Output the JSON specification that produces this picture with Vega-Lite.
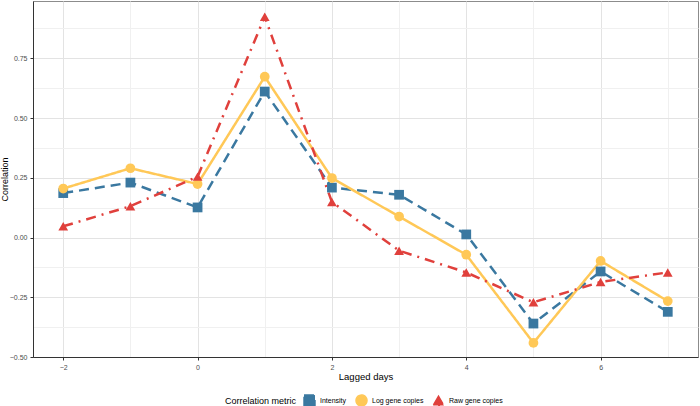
{
  "$schema": "https://vega.github.io/schema/vega-lite/v6.json",
  "width": 665,
  "height": 356,
  "autosize": {"type": "none"},
  "padding": {"left": 33, "top": 1, "right": 2, "bottom": 49},
  "background": "white",
  "config": {
    "font": "Liberation Sans",
    "view": {"stroke": "#8c8c8c", "strokeWidth": 1},
    "axis": {
      "labelFont": "Liberation Sans",
      "titleFont": "Liberation Sans",
      "labelFontSize": 7,
      "labelColor": "#4d4d4d",
      "titleFontSize": 9.5,
      "titleFontWeight": "normal",
      "titleColor": "#000000",
      "domainColor": "#333333",
      "tickColor": "#333333",
      "tickSize": 3
    },
    "legend": {
      "labelFont": "Liberation Sans",
      "titleFont": "Liberation Sans",
      "labelFontSize": 7,
      "titleFontSize": 9,
      "titleFontWeight": "normal",
      "labelColor": "#000000",
      "titleColor": "#000000"
    }
  },
  "data": {
    "values": [
      {"day": -2, "value": 0.186, "metric": "Intensity"},
      {"day": -1, "value": 0.230, "metric": "Intensity"},
      {"day": 0, "value": 0.126, "metric": "Intensity"},
      {"day": 1, "value": 0.611, "metric": "Intensity"},
      {"day": 2, "value": 0.209, "metric": "Intensity"},
      {"day": 3, "value": 0.179, "metric": "Intensity"},
      {"day": 4, "value": 0.013, "metric": "Intensity"},
      {"day": 5, "value": -0.360, "metric": "Intensity"},
      {"day": 6, "value": -0.142, "metric": "Intensity"},
      {"day": 7, "value": -0.311, "metric": "Intensity"},
      {"day": -2, "value": 0.205, "metric": "Log gene copies"},
      {"day": -1, "value": 0.290, "metric": "Log gene copies"},
      {"day": 0, "value": 0.224, "metric": "Log gene copies"},
      {"day": 1, "value": 0.673, "metric": "Log gene copies"},
      {"day": 2, "value": 0.249, "metric": "Log gene copies"},
      {"day": 3, "value": 0.088, "metric": "Log gene copies"},
      {"day": 4, "value": -0.072, "metric": "Log gene copies"},
      {"day": 5, "value": -0.441, "metric": "Log gene copies"},
      {"day": 6, "value": -0.098, "metric": "Log gene copies"},
      {"day": 7, "value": -0.266, "metric": "Log gene copies"},
      {"day": -2, "value": 0.047, "metric": "Raw gene copies"},
      {"day": -1, "value": 0.131, "metric": "Raw gene copies"},
      {"day": 0, "value": 0.255, "metric": "Raw gene copies"},
      {"day": 1, "value": 0.924, "metric": "Raw gene copies"},
      {"day": 2, "value": 0.149, "metric": "Raw gene copies"},
      {"day": 3, "value": -0.055, "metric": "Raw gene copies"},
      {"day": 4, "value": -0.146, "metric": "Raw gene copies"},
      {"day": 5, "value": -0.271, "metric": "Raw gene copies"},
      {"day": 6, "value": -0.186, "metric": "Raw gene copies"},
      {"day": 7, "value": -0.146, "metric": "Raw gene copies"}
    ]
  },
  "encoding": {
    "x": {
      "field": "day",
      "type": "quantitative",
      "title": "Lagged days",
      "scale": {"domain": [-2.45, 7.45], "nice": false, "zero": false},
      "axis": {
        "values": [-2, -1, 0, 1, 2, 3, 4, 5, 6, 7],
        "labelExpr": "datum.value % 2 == 0 ? datum.label : ''",
        "tickOpacity": {"condition": {"test": "datum.value % 2 == 0", "value": 1}, "value": 0},
        "gridColor": {"condition": {"test": "datum.value % 2 == 0", "value": "#e3e3e3"}, "value": "#f0f0f0"},
        "gridWidth": 1,
        "labelPadding": 3,
        "titlePadding": 1
      }
    },
    "y": {
      "field": "value",
      "type": "quantitative",
      "title": "Correlation",
      "scale": {"domain": [-0.5, 0.99], "nice": false, "zero": false},
      "axis": {
        "values": [-0.5, -0.375, -0.25, -0.125, 0, 0.125, 0.25, 0.375, 0.5, 0.625, 0.75, 0.875],
        "labelExpr": "abs(datum.value * 4 - round(datum.value * 4)) < 0.01 ? format(datum.value, '.2f') : ''",
        "tickOpacity": {"condition": {"test": "abs(datum.value * 4 - round(datum.value * 4)) < 0.01", "value": 1}, "value": 0},
        "gridColor": {"condition": {"test": "abs(datum.value * 4 - round(datum.value * 4)) < 0.01", "value": "#e3e3e3"}, "value": "#f0f0f0"},
        "gridWidth": 1,
        "labelPadding": 3,
        "titlePadding": 0,
        "titleFontSize": 9
      }
    },
    "color": {
      "field": "metric",
      "type": "nominal",
      "title": "Correlation metric",
      "scale": {"domain": ["Intensity", "Log gene copies", "Raw gene copies"], "range": ["#3a78a0", "#ffc857", "#e0403c"]},
      "legend": {
        "orient": "none",
        "legendX": 192,
        "legendY": 393,
        "direction": "horizontal",
        "titleOrient": "left",
        "titleAnchor": "middle",
        "titlePadding": 6,
        "symbolSize": 120,
        "symbolOpacity": 1,
        "columnPadding": 6,
        "labelOffset": 4
      }
    }
  },
  "layer": [
    {
      "mark": {"type": "line", "strokeWidth": 2.5},
      "encoding": {
        "strokeDash": {
          "field": "metric",
          "type": "nominal",
          "title": "Correlation metric",
          "scale": {"domain": ["Intensity", "Log gene copies", "Raw gene copies"], "range": [[10, 6], [1, 0], [10, 6, 2, 6]]},
          "legend": null
        }
      }
    },
    {
      "mark": {"type": "point", "filled": true, "opacity": 1, "size": 95},
      "encoding": {
        "shape": {
          "field": "metric",
          "type": "nominal",
          "title": "Correlation metric",
          "scale": {"domain": ["Intensity", "Log gene copies", "Raw gene copies"], "range": ["square", "circle", "triangle-up"]}
        }
      }
    }
  ]
}
